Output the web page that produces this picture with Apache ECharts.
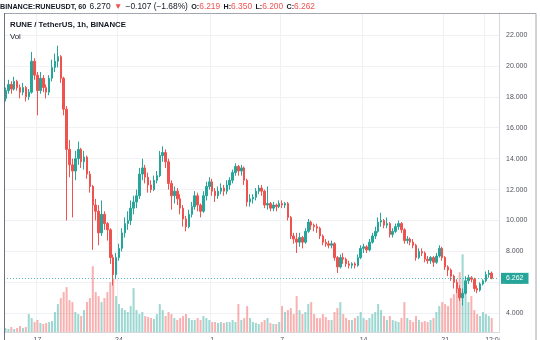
<!DOCTYPE html>
<html>
<head>
<meta charset="utf-8">
<script src="https://cdn.jsdelivr.net/npm/echarts@6/dist/echarts.min.js"></script>
<style>
  html, body { margin: 0; padding: 0; background: #ffffff; }
  #chart { width: 540px; height: 340px; }
</style>
</head>
<body>
<div id="chart"></div>
<script>
// RUNE/USDT on Binance, candles aggregated to 6-hour bars, 14 May – 25 Jun 2021
const firstCandle = Date.UTC(2021, 4, 14, 6);
const stepHours = 6;
const slotCount = 170; // candles plus empty space on the right edge

// [open, close, low, high]
const ohlc = [
  [17.9,18.4,17.7,18.6],[18.4,18.8,18.2,19.1],[18.8,18.5,18.2,19.0],[18.5,19.0,18.4,19.3],
  [19.0,18.6,18.4,19.1],[18.6,18.3,17.9,18.8],[18.3,18.6,18.1,18.9],[18.6,18.0,17.7,18.7],
  [18.0,18.3,17.8,18.5],[18.3,20.3,18.2,20.9],[20.3,19.4,19.1,20.5],[19.4,18.4,16.8,19.6],
  [18.4,19.2,18.2,19.6],[19.2,18.6,18.3,19.4],[18.6,18.3,17.9,18.8],[18.3,19.2,18.1,19.4],
  [19.2,19.9,19.0,20.4],[19.9,20.3,19.6,20.8],[20.3,20.6,19.9,21.3],[20.6,19.2,18.9,20.7],
  [19.2,17.2,16.8,19.3],[17.2,14.6,10.0,17.4],[14.6,13.6,12.8,15.2],[13.6,13.2,10.2,14.0],
  [13.2,14.0,12.6,14.5],[14.0,14.6,13.6,15.1],[14.6,13.8,13.4,14.7],[13.8,14.1,13.3,14.5],
  [14.1,13.0,12.7,14.2],[13.0,12.2,11.8,13.2],[12.2,11.0,8.1,12.3],[11.0,10.6,10.0,11.4],
  [10.6,9.2,8.4,11.0],[9.2,10.4,9.0,11.3],[10.4,9.8,9.4,10.6],[9.8,9.4,8.7,9.9],
  [9.4,7.6,7.2,9.5],[7.6,6.5,5.8,7.8],[6.5,7.6,6.2,7.9],[7.6,8.2,7.4,8.5],
  [8.2,9.2,8.0,9.5],[9.2,9.8,8.9,10.2],[9.8,10.0,9.4,10.6],[10.0,10.8,9.7,11.3],
  [10.8,11.2,10.4,11.6],[11.2,11.6,10.8,12.0],[11.6,13.0,11.4,13.4],[13.0,13.4,12.6,14.0],
  [13.4,12.8,12.4,13.6],[12.8,12.3,11.8,13.1],[12.3,12.0,11.8,12.6],[12.0,12.6,11.9,12.9],
  [12.6,12.9,12.4,13.2],[12.9,14.2,12.8,14.5],[14.2,14.4,13.8,14.8],[14.4,13.8,13.4,14.6],
  [13.8,12.4,12.0,14.0],[12.4,11.6,10.7,12.6],[11.6,11.9,11.1,12.2],[11.9,11.4,11.0,12.1],
  [11.4,10.8,10.4,11.7],[10.8,10.1,9.6,11.0],[10.1,9.6,9.3,10.3],[9.6,10.4,9.5,10.7],
  [10.4,10.9,10.2,11.2],[10.9,11.6,10.7,11.9],[11.6,11.0,10.6,11.8],[11.0,10.6,10.2,11.1],
  [10.6,11.6,10.5,11.9],[11.6,12.2,11.3,12.5],[12.2,12.5,12.0,12.8],[12.5,11.9,11.6,12.7],
  [11.9,11.6,11.2,12.1],[11.6,11.9,11.4,12.2],[11.9,12.1,11.7,12.4],[12.1,11.9,11.6,12.3],
  [11.9,12.3,11.7,12.6],[12.3,12.6,12.0,12.8],[12.6,13.1,12.4,13.3],[13.1,13.5,12.9,13.7],
  [13.5,13.2,12.9,13.6],[13.2,13.4,12.9,13.6],[13.4,12.6,12.3,13.5],[12.6,11.2,10.9,12.7],
  [11.2,11.4,10.9,11.7],[11.4,11.5,11.1,11.7],[11.5,11.9,11.3,12.1],[11.9,12.1,11.7,12.3],
  [12.1,11.9,11.6,12.3],[11.9,11.0,10.8,12.0],[11.0,11.1,10.7,12.2],[11.1,10.8,10.6,11.2],
  [10.8,11.0,10.6,11.2],[11.0,10.9,10.6,11.1],[10.9,11.1,10.8,11.3],[11.1,11.0,10.8,11.3],
  [11.0,11.1,10.8,11.2],[11.1,10.2,10.0,11.2],[10.2,9.0,8.8,10.3],[9.0,8.8,8.5,9.2],
  [8.8,8.6,7.9,9.2],[8.6,8.9,8.3,9.2],[8.9,8.6,8.2,9.0],[8.6,9.3,8.5,9.5],
  [9.3,9.9,9.2,10.1],[9.9,9.7,9.4,10.0],[9.7,9.6,9.3,9.8],[9.6,9.5,9.2,9.8],
  [9.5,9.0,8.8,9.6],[9.0,8.6,8.4,9.1],[8.6,8.5,8.3,8.8],[8.5,8.4,8.2,8.7],
  [8.4,8.5,8.2,8.7],[8.5,7.6,7.4,8.6],[7.6,7.0,6.6,7.7],[7.0,7.6,6.9,7.8],
  [7.6,7.5,7.2,7.9],[7.5,7.2,7.0,7.6],[7.2,7.1,6.9,7.4],[7.1,7.2,6.9,7.3],
  [7.2,7.1,6.9,7.3],[7.1,7.6,7.0,7.8],[7.6,8.2,7.5,8.4],[8.2,8.3,7.9,8.5],
  [8.3,8.1,7.9,8.4],[8.1,8.6,8.0,8.8],[8.6,9.0,8.5,9.2],[9.0,9.3,8.8,9.6],
  [9.3,9.9,9.2,10.2],[9.9,10.0,9.6,10.5],[10.0,9.7,9.5,10.1],[9.7,9.8,9.5,10.2],
  [9.8,9.1,8.9,9.9],[9.1,9.3,8.9,9.5],[9.3,9.6,9.2,9.8],[9.6,9.8,9.4,10.0],
  [9.8,9.4,9.2,9.9],[9.4,8.7,8.5,9.5],[8.7,8.8,8.5,9.0],[8.8,8.6,8.4,8.9],
  [8.6,8.4,8.2,8.8],[8.4,7.6,7.4,8.5],[7.6,8.0,7.5,8.2],[8.0,7.9,7.7,8.2],
  [7.9,7.5,7.3,8.0],[7.5,7.4,7.2,7.7],[7.4,7.6,7.2,7.7],[7.6,7.3,7.0,7.7],
  [7.3,7.7,7.2,7.9],[7.7,8.2,7.6,8.4],[8.2,7.6,7.4,8.3],[7.6,7.0,6.8,7.7],
  [7.0,6.8,6.4,7.1],[6.8,6.4,6.1,6.9],[6.4,6.0,5.6,6.5],[6.0,5.6,5.3,6.2],
  [5.6,5.0,4.8,5.8],[5.0,5.3,4.5,5.6],[5.3,6.1,5.2,6.4],[6.1,6.3,5.9,6.5],
  [6.3,6.2,6.0,6.4],[6.2,5.6,5.4,6.3],[5.6,5.5,5.3,5.8],[5.5,5.9,5.4,6.0],
  [5.9,6.1,5.8,6.2],[6.1,6.5,6.0,6.7],[6.5,6.6,6.3,6.8],[6.6,6.262,6.2,6.7]
];

// traded volume per bar, thousands of RUNE
const volumes = [
  20,15,25,15,20,30,20,25,90,70,50,60,45,40,45,50,55,100,140,170,
  200,225,160,150,100,90,80,110,150,170,330,200,180,150,170,200,250,270,180,140,
  120,110,100,130,220,110,90,100,80,75,70,65,90,140,110,80,100,90,70,60,
  70,80,90,70,60,60,70,60,80,70,60,50,50,45,50,45,50,50,60,50,
  140,60,70,130,70,50,45,40,50,60,70,45,40,40,50,130,100,110,120,90,
  180,110,90,100,140,150,90,70,70,90,75,60,60,100,120,150,90,70,60,60,
  70,80,100,70,60,70,90,100,140,110,80,60,80,60,55,50,70,150,70,60,
  50,80,60,50,55,50,60,70,100,130,150,140,130,170,190,220,300,390,200,150,
  180,110,90,80,100,90,80,70
];

// date labels on the time scale
const tickLabels = [
  ['2021-05-17 00:00', '17'],
  ['2021-05-24 00:00', '24'],
  ['2021-06-01 00:00', '1'],
  ['2021-06-07 00:00', '7'],
  ['2021-06-14 00:00', '14'],
  ['2021-06-21 00:00', '21'],
  ['2021-06-24 12:00', '12:00']
];

const priceRange = { min: 2.79, max: 23.42 };

const pad = n => String(n).padStart(2, '0');
const categories = [];
for (let i = 0; i < slotCount; i++) {
  const d = new Date(firstCandle + i * stepHours * 3600 * 1000);
  categories.push(d.getUTCFullYear() + '-' + pad(d.getUTCMonth() + 1) + '-' + pad(d.getUTCDate()) +
    ' ' + pad(d.getUTCHours()) + ':00');
}
const labelMap = Object.fromEntries(tickLabels);
const showTick = (idx, val) => labelMap[val] !== undefined;
const lastTickKey = tickLabels[tickLabels.length - 1][0];

const UP = '#26a69a', DOWN = '#ef5350';
const volumeBars = volumes.map((v, i) => ({
  value: v,
  itemStyle: { color: ohlc[i][1] >= ohlc[i][0] ? 'rgba(38,166,154,0.45)' : 'rgba(239,83,80,0.45)' }
}));
const lastClose = ohlc[ohlc.length - 1][1];

const FONT = '"Liberation Sans", Arial, sans-serif';
const chart = echarts.init(document.getElementById('chart'), null, { renderer: 'canvas' });

chart.setOption({
  animation: false,
  backgroundColor: '#ffffff',
  grid: { left: 4, right: 41, top: 13, bottom: 8, containLabel: false, outerBoundsMode: 'none' },
  xAxis: {
    type: 'category',
    data: categories,
    boundaryGap: true,
    axisLine: { lineStyle: { color: '#d6d8de', width: 1 } },
    axisTick: { show: false },
    axisLabel: {
      interval: showTick,
      formatter: v => v === lastTickKey ? '{edge|' + labelMap[v] + '}' : (labelMap[v] || ''),
      rich: { edge: { fontFamily: FONT, fontSize: 7, color: '#50535e', padding: [0, 0, 0, 16] } },
      fontFamily: FONT, fontSize: 7, color: '#50535e', margin: 5
    },
    splitLine: { show: true, interval: showTick, lineStyle: { color: '#eff1f5', width: 1 } }
  },
  yAxis: [
    {
      type: 'value',
      position: 'right',
      min: priceRange.min,
      max: priceRange.max,
      splitNumber: 10,
      axisLine: { show: true, lineStyle: { color: '#d6d8de' } },
      axisTick: { show: false },
      axisLabel: {
        showMinLabel: false, showMaxLabel: false,
        formatter: v => v.toFixed(3),
        fontFamily: FONT, fontSize: 7, color: '#50535e', margin: 7
      },
      splitLine: { lineStyle: { color: '#eff1f5', width: 1 } }
    },
    { type: 'value', min: 0, max: 1600, show: false }
  ],
  series: [
    {
      name: 'Vol',
      type: 'bar',
      yAxisIndex: 1,
      data: volumeBars,
      barWidth: 2,
      z: 1
    },
    {
      name: 'RUNE / TetherUS',
      type: 'candlestick',
      data: ohlc.map(r => [r[0], r[1], r[2], r[3]]),
      barWidth: 2,
      z: 3,
      itemStyle: { color: UP, color0: DOWN, borderColor: UP, borderColor0: DOWN, borderWidth: 1 },
      markLine: {
        silent: true,
        symbol: 'none',
        data: [{ yAxis: lastClose }],
        lineStyle: { type: [1, 2], color: 'rgba(38,166,154,0.75)', width: 1 },
        label: {
          position: 'end',
          distance: 2,
          formatter: () => lastClose.toFixed(3),
          backgroundColor: UP,
          color: '#ffffff',
          padding: [2, 5, 2, 5],
          fontFamily: FONT, fontSize: 7
        }
      }
    }
  ],
  graphic: [
    // hide the part of the last time label that runs under the price scale
    { type: 'rect', z: 100, shape: { x: 499.5, y: 333, width: 40, height: 8 }, style: { fill: '#ffffff' } },
    // pane frame
    { type: 'rect', z: 101, shape: { x: 4.5, y: 13.5, width: 531.5, height: 340 },
      style: { fill: 'none', stroke: '#a3a6af', lineWidth: 1 } },
    { type: 'line', z: 102, shape: { x1: 4.5, y1: 13, x2: 4.5, y2: 340 },
      style: { stroke: '#6f727c', lineWidth: 1 } },
    // symbol header
    {
      type: 'text', z: 103, left: 0, top: 1,
      style: {
        text: '{b|BINANCE:RUNEUSDT, 60} {n|6.270} {r|▼} {n|−0.107 (−1.68%)} {b|O:}{r|6.219} {b|H:}{r|6.350} {b|L:}{r|6.200} {b|C:}{r|6.262}',
        rich: {
          b: { fontFamily: FONT, fontSize: 7.2, fontWeight: 'bold', fill: '#131722' },
          n: { fontFamily: FONT, fontSize: 8.4, fill: '#131722' },
          r: { fontFamily: FONT, fontSize: 8.4, fill: DOWN }
        }
      }
    },
    {
      type: 'text', z: 103, left: 10, top: 21,
      style: { text: 'RUNE / TetherUS, 1h, BINANCE', fontFamily: FONT, fontSize: 7.8, fontWeight: 'bold', fill: '#131722' }
    },
    {
      type: 'text', z: 103, left: 10, top: 32.5,
      style: { text: 'Vol', fontFamily: FONT, fontSize: 7.8, fill: '#131722' }
    }
  ]
});
</script>
</body>
</html>
